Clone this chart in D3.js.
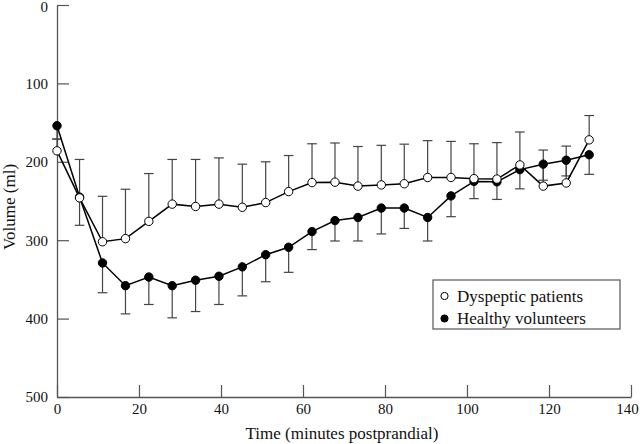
<!DOCTYPE html>
<html>
<head>
<meta charset="utf-8">
<script src="https://cdn.jsdelivr.net/npm/d3@7"></script>
<style>
  html, body { margin: 0; padding: 0; background: #fff; }
  svg { display: block; font-family: "Liberation Serif", "Times New Roman", serif; }
</style>
</head>
<body>
<svg id="chart" width="640" height="444"></svg>
<script>
// ---- data ----
const times = [0, 5.5, 11.1, 16.7, 22.4, 28.1, 33.8, 39.5, 45.2, 50.9, 56.5, 62.2,
               67.8, 73.4, 79.1, 84.7, 90.4, 96.1, 101.7, 107.3, 112.9, 118.6, 124.2, 129.8];
const dyspepticMean = [186, 246, 302, 298, 276, 254, 257, 254, 258, 252, 238, 226.5,
                       226, 231, 229.5, 228, 220, 220, 221.5, 222, 204, 231, 227, 172];
const dyspepticErrEnd = [171, 197, 244, 235, 215, 197, 197, 195, 203, 200, 192, 177,
                         176, 180.5, 179, 177.5, 173, 174, 177, 175.5, 162, 185, 180, 141];
const healthyMean = [154, 245, 329, 358, 347, 358, 351, 346, 334, 318.5, 309, 289,
                     275, 271, 259, 259, 271, 243.5, 225, 225.5, 210, 203, 198, 191];
const healthyErrEnd = [171, 281, 367, 394, 382, 399, 391, 382, 371, 353, 341, 312,
                       301, 301, 292, 285, 301, 270, 247, 248, 234.5, 223.5, 218, 216];
const seriesNames = ["Dyspeptic patients", "Healthy volunteers"];
const xTicks = [0, 20, 40, 60, 80, 100, 120, 140];
const yTicks = [0, 100, 200, 300, 400, 500];
const xTitle = "Time (minutes postprandial)";
const yTitle = "Volume (ml)";

// ---- layout ----
const W = 640, H = 444;
const margin = { left: 57, top: 5, right: 9, bottom: 47 };
const svg = d3.select("#chart");

const x = d3.scaleLinear().domain([0, 140]).range([margin.left, W - margin.right]);
const y = d3.scaleLinear().domain([0, 500]).range([margin.top, H - margin.bottom]);

const axisColor = "#555";
const textColor = "#111";

// axes
const gx = svg.append("g")
  .attr("transform", `translate(0,${H - margin.bottom})`)
  .call(d3.axisBottom(x).tickValues(xTicks).tickSizeInner(-12).tickSizeOuter(0).tickPadding(6));
const gy = svg.append("g")
  .attr("transform", `translate(${margin.left},0)`)
  .call(d3.axisLeft(y).tickValues(yTicks).tickSizeInner(-12).tickSizeOuter(0).tickPadding(9));

[gx, gy].forEach(g => {
  g.select(".domain").attr("stroke", axisColor).attr("stroke-width", 1.3);
  g.selectAll(".tick line").attr("stroke", axisColor).attr("stroke-width", 1.2);
  g.selectAll(".tick text").attr("fill", textColor).attr("font-size", 15)
    .attr("font-family", "Liberation Serif, Times New Roman, serif");
});
gy.selectAll(".tick text").attr("dy", (d) => d === 0 ? "0.45em" : "0.33em");
gx.selectAll(".tick text").attr("dx", (d) => d === 140 ? "-4px" : null);

// titles
svg.append("text")
  .attr("x", (x(0) + x(140)) / 2 - 2)
  .attr("y", 439)
  .attr("text-anchor", "middle")
  .attr("font-size", 17)
  .attr("fill", textColor)
  .text(xTitle);
svg.append("text")
  .attr("transform", "rotate(-90)")
  .attr("x", -207)
  .attr("y", 15)
  .attr("text-anchor", "middle")
  .attr("font-size", 17)
  .attr("fill", textColor)
  .text(yTitle);

// error bars
const capHalf = 4.8;
function errorBars(means, ends) {
  const g = svg.append("g").attr("stroke", "#444").attr("stroke-width", 1.2).attr("fill", "none");
  times.forEach((t, i) => {
    const cx = x(t);
    g.append("line").attr("x1", cx).attr("x2", cx).attr("y1", y(means[i])).attr("y2", y(ends[i]));
    g.append("line").attr("x1", cx - capHalf).attr("x2", cx + capHalf).attr("y1", y(ends[i])).attr("y2", y(ends[i]));
  });
}
errorBars(dyspepticMean, dyspepticErrEnd);
errorBars(healthyMean, healthyErrEnd);

// lines
const line = d3.line().x((d, i) => x(times[i])).y(d => y(d));
svg.append("path").datum(dyspepticMean).attr("d", line)
  .attr("fill", "none").attr("stroke", "#000").attr("stroke-width", 1.5);
svg.append("path").datum(healthyMean).attr("d", line)
  .attr("fill", "none").attr("stroke", "#000").attr("stroke-width", 1.5);

// points
svg.append("g").selectAll("circle").data(healthyMean).join("circle")
  .attr("cx", (d, i) => x(times[i])).attr("cy", d => y(d)).attr("r", 4.2)
  .attr("fill", "#000").attr("stroke", "#000").attr("stroke-width", 1);
svg.append("g").selectAll("circle").data(dyspepticMean).join("circle")
  .attr("cx", (d, i) => x(times[i])).attr("cy", d => y(d)).attr("r", 4.2)
  .attr("fill", "#fff").attr("stroke", "#000").attr("stroke-width", 1);

// legend
const lg = svg.append("g");
lg.append("rect").attr("x", 433).attr("y", 280).attr("width", 187).attr("height", 49)
  .attr("fill", "#fff").attr("stroke", "#555").attr("stroke-width", 1.2);
const legendRows = [
  { name: seriesNames[0], fill: "#fff", cy: 296 },
  { name: seriesNames[1], fill: "#000", cy: 318.5 }
];
legendRows.forEach(r => {
  lg.append("circle").attr("cx", 444.5).attr("cy", r.cy).attr("r", 3.6)
    .attr("fill", r.fill).attr("stroke", "#000").attr("stroke-width", 1);
  lg.append("text").attr("x", 457).attr("y", r.cy + 5.8)
    .attr("font-size", 17).attr("fill", textColor).text(r.name);
});
</script>
</body>
</html>
